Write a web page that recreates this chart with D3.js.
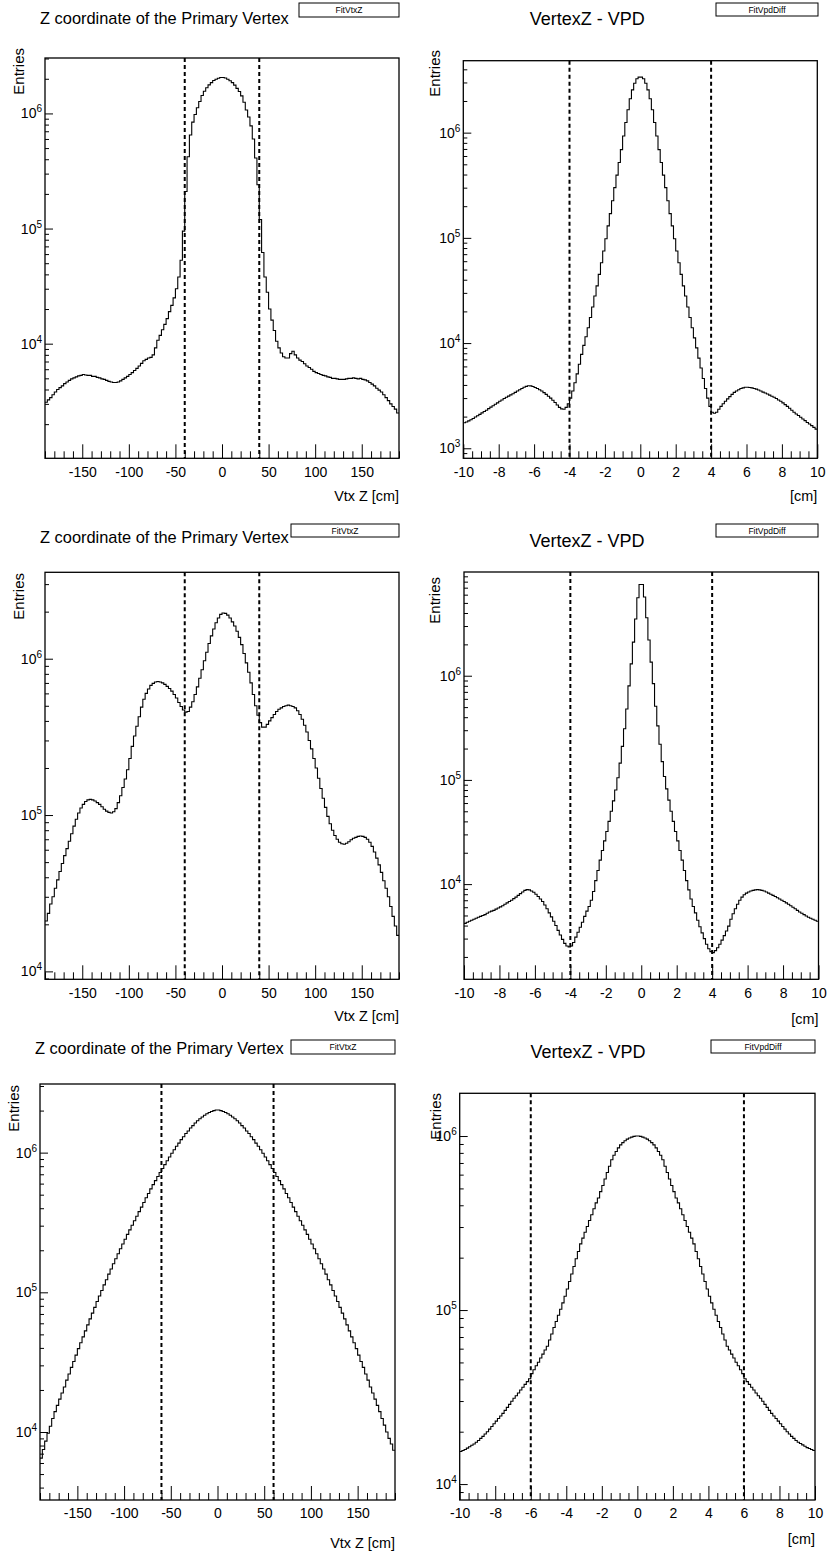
<!DOCTYPE html>
<html><head><meta charset="utf-8">
<script src="https://cdn.jsdelivr.net/npm/d3@7"></script>
<style>
body{margin:0;background:#fff}
svg text{font-family:"Liberation Sans",Arial,Helvetica,sans-serif}
</style>
</head><body>
<svg id="c" width="829" height="1553"></svg>
<script>
// ---------------- DATA ----------------
const vtxZRange = [-190, 190];
const vpdRange = [-10, 10];
const vtxZTicks = [-150, -100, -50, 0, 50, 100, 150];
const vpdTicks = [-10, -8, -6, -4, -2, 0, 2, 4, 6, 8, 10];
const titles = ["Z coordinate of the Primary Vertex", "VertexZ - VPD",
                "Z coordinate of the Primary Vertex", "VertexZ - VPD",
                "Z coordinate of the Primary Vertex", "VertexZ - VPD"];
const boxLabels = ["FitVtxZ", "FitVpdDiff", "FitVtxZ", "FitVpdDiff", "FitVtxZ", "FitVpdDiff"];
const xTitles = ["Vtx Z [cm]", "[cm]", "Vtx Z [cm]", "[cm]", "Vtx Z [cm]", "[cm]"];
const yTitle = "Entries";
const cuts1 = [-40, 40];
const cuts2 = [-4, 4];
const cuts3 = [-40, 40];
const cuts4 = [-4, 4];
const cuts5 = [-60, 60];
const cuts6 = [-6, 6];

// top-left: 152 bins of 2.5 cm
const p1Counts = [
 3.1e3,3.25e3,3.4e3,3.6e3,3.8e3,4.0e3,4.15e3,4.3e3,
 4.5e3,4.65e3,4.8e3,4.95e3,5.05e3,5.15e3,5.25e3,5.3e3,
 5.4e3,5.35e3,5.3e3,5.3e3,5.2e3,5.2e3,5.1e3,5.05e3,
 4.95e3,4.9e3,4.8e3,4.7e3,4.65e3,4.6e3,4.6e3,4.65e3,
 4.75e3,4.9e3,5.05e3,5.2e3,5.4e3,5.6e3,5.85e3,6.1e3,
 6.4e3,6.75e3,7.1e3,7.3e3,7.5e3,7.6e3,8.0e3,9.2e3,
 1.07e4,1.18e4,1.32e4,1.47e4,1.65e4,1.9e4,2.15e4,2.5e4,
 3.0e4,3.8e4,5.3e4,9.5e4,2.1e5,4.2e5,6.5e5,8.4e5,
 9.8e5,1.12e6,1.27e6,1.43e6,1.56e6,1.67e6,1.77e6,1.85e6,
 1.93e6,1.98e6,2.02e6,2.05e6,
 2.05e6,2.03e6,1.98e6,1.92e6,1.85e6,1.76e6,1.65e6,1.55e6,
 1.42e6,1.25e6,1.07e6,9.3e5,7.8e5,6.0e5,4.1e5,2.4e5,
 1.2e5,6.2e4,3.8e4,2.8e4,2.0e4,1.6e4,1.3e4,1.05e4,
 9.2e3,8.3e3,7.7e3,7.5e3,7.5e3,8.2e3,8.6e3,8.0e3,
 7.5e3,7.2e3,7.0e3,6.7e3,6.4e3,6.2e3,6.0e3,5.75e3,
 5.6e3,5.5e3,5.4e3,5.3e3,5.25e3,5.15e3,5.1e3,5.0e3,
 5.0e3,4.95e3,4.9e3,4.9e3,4.9e3,4.95e3,5.0e3,5.0e3,
 5.05e3,5.0e3,4.95e3,5.0e3,4.9e3,4.85e3,4.75e3,4.6e3,
 4.45e3,4.3e3,4.1e3,3.95e3,3.8e3,3.6e3,3.4e3,3.2e3,
 3.0e3,2.85e3,2.7e3,2.5e3];

// top-right: 160 bins of 0.125 cm
const p2Counts = [
 1.75e3,1.78e3,1.82e3,1.87e3,1.92e3,1.98e3,2.04e3,2.1e3,
 2.17e3,2.24e3,2.3e3,2.38e3,2.46e3,2.54e3,2.62e3,2.7e3,
 2.8e3,2.88e3,2.97e3,3.05e3,3.13e3,3.22e3,3.3e3,3.4e3,
 3.5e3,3.6e3,3.7e3,3.8e3,3.88e3,3.93e3,3.92e3,3.86e3,
 3.78e3,3.7e3,3.6e3,3.5e3,3.38e3,3.25e3,3.12e3,3.0e3,
 2.86e3,2.72e3,2.58e3,2.45e3,2.37e3,2.35e3,2.45e3,2.65e3,
 3.0e3,3.5e3,4.2e3,5.1e3,6.3e3,7.8e3,9.5e3,1.15e4,
 1.4e4,1.75e4,2.2e4,2.8e4,3.5e4,4.5e4,5.8e4,7.5e4,
 9.8e4,1.3e5,1.7e5,2.25e5,3.0e5,3.95e5,5.2e5,6.9e5,
 9.3e5,1.25e6,1.65e6,2.1e6,2.55e6,2.95e6,3.25e6,3.37e6,
 3.37e6,3.25e6,2.95e6,2.55e6,2.1e6,1.65e6,1.25e6,9.3e5,
 6.9e5,5.2e5,3.95e5,3.0e5,2.25e5,1.7e5,1.3e5,9.8e4,
 7.5e4,5.8e4,4.5e4,3.5e4,2.8e4,2.2e4,1.75e4,1.4e4,
 1.12e4,9.0e3,7.2e3,5.8e3,4.6e3,3.7e3,3.0e3,2.5e3,
 2.2e3,2.15e3,2.2e3,2.35e3,2.5e3,2.65e3,2.8e3,2.95e3,
 3.1e3,3.25e3,3.4e3,3.5e3,3.6e3,3.7e3,3.75e3,3.8e3,
 3.8e3,3.78e3,3.75e3,3.7e3,3.65e3,3.58e3,3.5e3,3.42e3,
 3.35e3,3.28e3,3.2e3,3.12e3,3.05e3,2.97e3,2.88e3,2.8e3,
 2.7e3,2.6e3,2.5e3,2.4e3,2.3e3,2.2e3,2.12e3,2.05e3,
 1.97e3,1.9e3,1.83e3,1.76e3,1.7e3,1.64e3,1.58e3,1.52e3];

// middle-left: 152 bins of 2.5 cm
const p3Counts = [
 2.1e4,2.35e4,2.7e4,3.0e4,3.4e4,3.85e4,4.35e4,4.9e4,
 5.5e4,6.1e4,6.8e4,7.6e4,8.5e4,9.4e4,1.03e5,1.11e5,
 1.17e5,1.22e5,1.25e5,1.26e5,1.25e5,1.23e5,1.2e5,1.17e5,
 1.13e5,1.09e5,1.06e5,1.04e5,1.03e5,1.05e5,1.1e5,1.2e5,
 1.33e5,1.5e5,1.7e5,1.95e5,2.3e5,2.75e5,3.2e5,3.7e5,
 4.25e5,4.9e5,5.5e5,6.0e5,6.4e5,6.75e5,6.95e5,7.1e5,
 7.15e5,7.1e5,7.0e5,6.85e5,6.65e5,6.45e5,6.2e5,5.9e5,
 5.6e5,5.25e5,4.95e5,4.7e5,4.55e5,4.6e5,4.9e5,5.3e5,
 5.9e5,6.6e5,7.5e5,8.5e5,9.7e5,1.1e6,1.25e6,1.4e6,
 1.55e6,1.7e6,1.82e6,1.92e6,
 1.96e6,1.95e6,1.9e6,1.82e6,1.72e6,1.62e6,1.5e6,1.37e6,
 1.23e6,1.08e6,9.4e5,8.2e5,7.0e5,5.9e5,5.0e5,4.35e5,
 3.9e5,3.65e5,3.65e5,3.8e5,4.0e5,4.2e5,4.4e5,4.6e5,
 4.75e5,4.85e5,4.95e5,5.0e5,5.05e5,5.0e5,4.95e5,4.85e5,
 4.65e5,4.4e5,4.1e5,3.75e5,3.4e5,3.0e5,2.65e5,2.3e5,
 2.0e5,1.72e5,1.48e5,1.28e5,1.12e5,9.8e4,8.8e4,8.0e4,
 7.4e4,7.0e4,6.7e4,6.55e4,6.5e4,6.6e4,6.75e4,6.95e4,
 7.1e4,7.2e4,7.3e4,7.35e4,7.3e4,7.2e4,7.0e4,6.7e4,
 6.3e4,5.8e4,5.3e4,4.8e4,4.3e4,3.8e4,3.4e4,3.0e4,
 2.6e4,2.25e4,1.95e4,1.7e4];

// middle-right: 160 bins of 0.125 cm
const p4Counts = [
 4.2e3,4.3e3,4.4e3,4.5e3,4.6e3,4.7e3,4.8e3,4.9e3,
 5.0e3,5.1e3,5.25e3,5.4e3,5.5e3,5.6e3,5.75e3,5.9e3,
 6.05e3,6.2e3,6.4e3,6.6e3,6.8e3,7.0e3,7.25e3,7.5e3,
 7.8e3,8.1e3,8.4e3,8.7e3,8.85e3,8.8e3,8.6e3,8.35e3,
 8.0e3,7.6e3,7.2e3,6.8e3,6.3e3,5.8e3,5.3e3,4.85e3,
 4.4e3,4.0e3,3.6e3,3.25e3,2.95e3,2.7e3,2.55e3,2.5e3,
 2.55e3,2.75e3,3.1e3,3.45e3,3.85e3,4.3e3,4.9e3,5.5e3,
 6.1e3,7.0e3,8.5e3,1.08e4,1.35e4,1.7e4,2.1e4,2.6e4,
 3.2e4,4.0e4,5.0e4,6.3e4,8.0e4,1.05e5,1.45e5,2.1e5,
 3.1e5,4.8e5,8.0e5,1.3e6,2.1e6,3.5e6,5.6e6,7.5e6,
 7.5e6,5.7e6,3.6e6,2.2e6,1.35e6,8.4e5,5.1e5,3.3e5,
 2.2e5,1.5e5,1.08e5,8.2e4,6.4e4,5.0e4,4.0e4,3.2e4,
 2.6e4,2.1e4,1.7e4,1.35e4,1.08e4,8.8e3,7.2e3,6.1e3,
 5.3e3,4.5e3,3.9e3,3.4e3,3.0e3,2.65e3,2.4e3,2.25e3,
 2.2e3,2.3e3,2.45e3,2.65e3,2.9e3,3.2e3,3.55e3,3.95e3,
 4.6e3,5.2e3,5.8e3,6.4e3,7.0e3,7.5e3,7.9e3,8.2e3,
 8.4e3,8.6e3,8.7e3,8.8e3,8.85e3,8.8e3,8.7e3,8.6e3,
 8.4e3,8.2e3,8.0e3,7.8e3,7.6e3,7.4e3,7.2e3,7.0e3,
 6.8e3,6.6e3,6.4e3,6.2e3,6.0e3,5.8e3,5.6e3,5.4e3,
 5.25e3,5.1e3,4.95e3,4.8e3,4.7e3,4.6e3,4.5e3,4.4e3];

// bottom-left: 152 bins of 2.5 cm
const p5Counts = [
 6.5e3,7.5e3,8.6e3,9.8e3,1.1e4,1.25e4,1.4e4,1.55e4,
 1.72e4,1.9e4,2.1e4,2.35e4,2.6e4,2.9e4,3.2e4,3.55e4,
 3.95e4,4.35e4,4.8e4,5.3e4,5.85e4,6.45e4,7.1e4,7.8e4,
 8.6e4,9.4e4,1.03e5,1.13e5,1.23e5,1.35e5,1.47e5,1.6e5,
 1.74e5,1.89e5,2.05e5,2.22e5,2.4e5,2.6e5,2.8e5,3.02e5,
 3.25e5,3.5e5,3.78e5,4.07e5,4.4e5,4.75e5,5.1e5,5.5e5,
 5.9e5,6.3e5,6.75e5,7.2e5,7.7e5,8.2e5,8.75e5,9.3e5,
 9.9e5,1.05e6,1.11e6,1.17e6,1.24e6,1.3e6,1.37e6,1.43e6,
 1.5e6,1.56e6,1.63e6,1.69e6,1.75e6,1.8e6,1.85e6,1.9e6,
 1.94e6,1.97e6,2.0e6,2.02e6,
 2.02e6,2.0e6,1.97e6,1.94e6,1.9e6,1.85e6,1.8e6,1.75e6,
 1.69e6,1.63e6,1.56e6,1.5e6,1.43e6,1.37e6,1.3e6,1.24e6,
 1.17e6,1.11e6,1.05e6,9.9e5,9.3e5,8.75e5,8.2e5,7.7e5,
 7.2e5,6.75e5,6.3e5,5.9e5,5.5e5,5.1e5,4.75e5,4.4e5,
 4.07e5,3.78e5,3.5e5,3.25e5,3.02e5,2.8e5,2.6e5,2.4e5,
 2.22e5,2.05e5,1.89e5,1.74e5,1.6e5,1.47e5,1.35e5,1.23e5,
 1.13e5,1.03e5,9.4e4,8.6e4,7.8e4,7.1e4,6.45e4,5.85e4,
 5.3e4,4.8e4,4.35e4,3.95e4,3.55e4,3.2e4,2.9e4,2.6e4,
 2.35e4,2.1e4,1.9e4,1.72e4,1.55e4,1.4e4,1.25e4,1.12e4,
 1.0e4,9.0e3,8.2e3,7.4e3];

// bottom-right: 160 bins of 0.125 cm
const p6Counts = [
 1.54e4,1.56e4,1.58e4,1.61e4,1.64e4,1.67e4,1.7e4,1.74e4,
 1.78e4,1.83e4,1.88e4,1.94e4,2.0e4,2.07e4,2.14e4,2.22e4,
 2.3e4,2.38e4,2.46e4,2.55e4,2.65e4,2.76e4,2.87e4,2.99e4,
 3.11e4,3.22e4,3.34e4,3.47e4,3.6e4,3.74e4,3.88e4,4.03e4,
 4.31e4,4.54e4,4.79e4,5.01e4,5.3e4,5.58e4,5.89e4,6.19e4,
 6.73e4,7.29e4,7.94e4,8.59e4,9.33e4,1.01e5,1.1e5,1.2e5,
 1.32e5,1.46e5,1.61e5,1.78e5,1.97e5,2.17e5,2.4e5,2.59e5,
 2.8e5,3.02e5,3.27e5,3.53e5,3.82e5,4.13e5,4.4e5,4.79e5,
 5.2e5,5.66e5,6.17e5,6.7e5,7.3e5,7.75e5,8.15e5,8.55e5,
 8.89e5,9.16e5,9.4e5,9.6e5,9.75e5,9.86e5,9.95e5,1.0e6,
 1.0e6,9.95e5,9.86e5,9.75e5,9.6e5,9.4e5,9.16e5,8.89e5,
 8.55e5,8.15e5,7.75e5,7.3e5,6.7e5,6.17e5,5.66e5,5.2e5,
 4.79e5,4.4e5,4.13e5,3.82e5,3.53e5,3.27e5,3.02e5,2.8e5,
 2.59e5,2.4e5,2.17e5,1.97e5,1.78e5,1.61e5,1.46e5,1.32e5,
 1.2e5,1.1e5,1.01e5,9.33e4,8.59e4,7.94e4,7.29e4,6.73e4,
 6.19e4,5.89e4,5.58e4,5.3e4,5.01e4,4.79e4,4.54e4,4.31e4,
 4.03e4,3.88e4,3.74e4,3.6e4,3.47e4,3.34e4,3.22e4,3.11e4,
 2.99e4,2.87e4,2.76e4,2.65e4,2.55e4,2.46e4,2.38e4,2.3e4,
 2.22e4,2.14e4,2.07e4,2.0e4,1.94e4,1.88e4,1.83e4,1.78e4,
 1.74e4,1.71e4,1.68e4,1.65e4,1.62e4,1.6e4,1.58e4,1.56e4];

// ---------------- LAYOUT ----------------
const panels = [
 {counts:p1Counts, xr:vtxZRange, yd:[1010,3.03e6], cuts:cuts1, major:vtxZTicks, minor:10,
  f:{l:45,t:58,r:399,b:458.3}, tx:40, ty:23.5, tAnchor:"start", tSize:16.4,
  box:[299,3,399,17], xtY:501, enX:24, enY:48},
 {counts:p2Counts, xr:vpdRange, yd:[803,4.83e6], cuts:cuts2, major:vpdTicks, minor:0.5,
  f:{l:463.3,t:60.7,r:817.3,b:458.3}, tx:587.3, ty:24.5, tAnchor:"middle", tSize:18,
  box:[716,3,818,16], xtY:501, enX:440, enY:50},
 {counts:p3Counts, xr:vtxZRange, yd:[8.9e3,3.57e6], cuts:cuts3, major:vtxZTicks, minor:10,
  f:{l:45,t:572.3,r:399,b:979.3}, tx:40, ty:542.5, tAnchor:"start", tSize:16.4,
  box:[291,524,399,537], xtY:1021, enX:24, enY:573},
 {counts:p4Counts, xr:vpdRange, yd:[1.22e3,9.9e6], cuts:cuts4, major:vpdTicks, minor:0.5,
  f:{l:464,t:572,r:818.5,b:979.3}, tx:587, ty:546.5, tAnchor:"middle", tSize:18,
  box:[716,524,818,537], xtY:1023.5, enX:440, enY:577},
 {counts:p5Counts, xr:vtxZRange, yd:[3.26e3,3.1e6], cuts:cuts5, major:vtxZTicks, minor:10,
  f:{l:40,t:1084,r:395,b:1500}, tx:35, ty:1053.5, tAnchor:"start", tSize:16.4,
  box:[291,1040,395,1054], xtY:1548, enX:19, enY:1085},
 {counts:p6Counts, xr:vpdRange, yd:[8.1e3,1.76e6], cuts:cuts6, major:vpdTicks, minor:0.5,
  f:{l:459.7,t:1093.3,r:815,b:1500}, tx:588, ty:1057.5, tAnchor:"middle", tSize:18,
  box:[711,1040,815,1053], xtY:1544, enX:441, enY:1093}
];

const svg = d3.select("#c");
svg.append("rect").attr("width",829).attr("height",1553).attr("fill","#fff");

function logTicks(dom){
  const out=[];
  for(let k=Math.floor(Math.log10(dom[0]));k<=Math.ceil(Math.log10(dom[1]));k++){
    for(let m=1;m<=9;m++){const v=m*Math.pow(10,k); if(v>=dom[0]*0.9999 && v<=dom[1]*1.0001) out.push({v,m,k});}
  }
  return out;
}

panels.forEach((p,i)=>{
  const f=p.f;
  const g=svg.append("g");
  const x=d3.scaleLinear().domain(p.xr).range([f.l,f.r]);
  const y=d3.scaleLog().domain(p.yd).range([f.b,f.t]).clamp(true);

  // histogram
  const n=p.counts.length, w=(p.xr[1]-p.xr[0])/n;
  const pts=p.counts.map((c,j)=>({e:p.xr[0]+j*w,c}));
  pts.push({e:p.xr[1],c:p.counts[n-1]});
  const line=d3.line().x(d=>x(d.e)).y(d=>y(d.c)).curve(d3.curveStepAfter);
  g.append("path").attr("d",line(pts)).attr("fill","none").attr("stroke","#000").attr("stroke-width",1.1);

  // cut lines
  p.cuts.forEach(c=>{
    g.append("line").attr("x1",x(c)).attr("x2",x(c)).attr("y1",f.t).attr("y2",f.b)
     .attr("stroke","#000").attr("stroke-width",2).attr("stroke-dasharray","4,3");
  });

  // x axis
  const minorVals=d3.range(p.xr[0],p.xr[1]+p.minor*0.01,p.minor).filter(v=>!p.major.some(m=>Math.abs(m-v)<1e-6));
  const xMin=g.append("g").attr("transform",`translate(0,${f.b})`)
    .call(d3.axisBottom(x).tickValues(minorVals).tickSize(-7).tickFormat(""));
  xMin.select(".domain").remove();
  const xMaj=g.append("g").attr("transform",`translate(0,${f.b})`)
    .call(d3.axisBottom(x).tickValues(p.major).tickSize(-14).tickPadding(8.5).tickFormat(d=>String(d)));
  xMaj.select(".domain").remove();
  xMaj.selectAll("text").attr("font-family",'"Liberation Sans",Arial,sans-serif').attr("font-size",14).attr("fill","#000");

  // y axis
  const lt=logTicks(p.yd);
  const yMin=g.append("g").attr("transform",`translate(${f.l},0)`)
    .call(d3.axisLeft(y).tickValues(lt.filter(t=>t.m!==1).map(t=>t.v)).tickSize(-4).tickFormat(""));
  yMin.select(".domain").remove();
  const majT=lt.filter(t=>t.m===1);
  const yMaj=g.append("g").attr("transform",`translate(${f.l},0)`)
    .call(d3.axisLeft(y).tickValues(majT.map(t=>t.v)).tickSize(-8).tickFormat(""));
  yMaj.select(".domain").remove();
  majT.forEach(t=>{
    const tx=g.append("text").attr("x",f.l-3).attr("y",y(t.v)+5).attr("text-anchor","end").attr("font-size",14);
    tx.append("tspan").text("10");
    tx.append("tspan").attr("dy",-6).attr("font-size",10).text(String(t.k));
  });

  // frame
  g.append("rect").attr("x",f.l).attr("y",f.t).attr("width",f.r-f.l).attr("height",f.b-f.t)
   .attr("fill","none").attr("stroke","#000").attr("stroke-width",1.3);

  // titles
  g.append("text").attr("x",p.tx).attr("y",p.ty).attr("text-anchor",p.tAnchor).attr("font-size",p.tSize).text(titles[i]);
  const b=p.box;
  g.append("rect").attr("x",b[0]).attr("y",b[1]).attr("width",b[2]-b[0]).attr("height",b[3]-b[1])
   .attr("fill","#fff").attr("stroke","#000").attr("stroke-width",1);
  g.append("text").attr("x",(b[0]+b[2])/2).attr("y",(b[1]+b[3])/2+3).attr("text-anchor","middle").attr("font-size",8.5).text(boxLabels[i]);
  g.append("text").attr("x",f.r).attr("y",p.xtY).attr("text-anchor","end").attr("font-size",14.4).text(xTitles[i]);
  g.append("text").attr("transform",`translate(${p.enX},${p.enY}) rotate(-90)`).attr("text-anchor","end").attr("font-size",15).text(yTitle);
});
</script>
</body></html>
